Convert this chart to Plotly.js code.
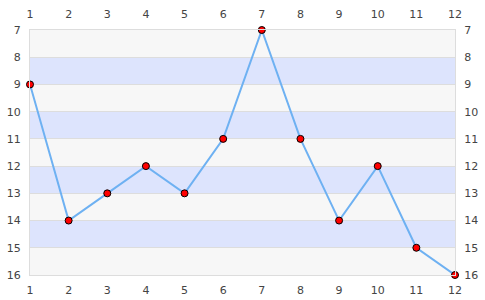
<!DOCTYPE html>
<html>
<head>
<meta charset="utf-8">
<script src="https://cdn.plot.ly/plotly-3.0.1.min.js"></script>
<style>html,body{margin:0;padding:0;background:#fff}#chart{width:485px;height:300px}</style>
</head>
<body>
<div id="chart"></div>
<script>
const xValues = [1, 2, 3, 4, 5, 6, 7, 8, 9, 10, 11, 12];
const yValues = [9, 14, 13, 12, 13, 11, 7, 11, 14, 12, 15, 16];
const bandStarts = [8, 10, 12, 14];

const shapes = bandStarts.map(b => ({
  type: 'rect', xref: 'paper', yref: 'y', x0: 0, x1: 1, y0: b, y1: b + 1,
  fillcolor: '#dde4fd', line: {width: 0}, layer: 'below'
}));

const trace = {
  x: xValues, y: yValues, type: 'scatter', mode: 'lines+markers',
  line: {color: '#6eb1f2', width: 2},
  marker: {color: '#ff0000', size: 7, line: {color: '#000', width: 1}},
  cliponaxis: false, hoverinfo: 'none'
};
const trace2 = {x: xValues, y: yValues, xaxis: 'x2', yaxis: 'y2', type: 'scatter', mode: 'none', showlegend: false, hoverinfo: 'none'};

const axisCommon = {
  showline: true, linecolor: '#dddddd', linewidth: 1, ticks: '', zeroline: false,
  tickfont: {family: 'DejaVu Sans', size: 11, color: '#444'}, dtick: 1, fixedrange: true
};

const layout = {
  width: 485, height: 300,
  margin: {l: 30, r: 30, t: 30, b: 25},
  paper_bgcolor: '#ffffff', plot_bgcolor: '#f7f7f7',
  showlegend: false,
  xaxis: Object.assign({}, axisCommon, {range: [1, 12], showgrid: false, tickvals: xValues, mirror: true, ticklabelstandoff: 5}),
  xaxis2: Object.assign({}, axisCommon, {range: [1, 12], showgrid: false, tickvals: xValues, overlaying: 'x', side: 'top', ticklabelstandoff: 7}),
  yaxis: Object.assign({}, axisCommon, {range: [16, 7], showgrid: true, gridcolor: '#dddddd', mirror: true, ticklabelstandoff: 6}),
  yaxis2: Object.assign({}, axisCommon, {range: [16, 7], showgrid: false, overlaying: 'y', side: 'right', anchor: 'x', ticklabelstandoff: 6}),
  shapes: shapes
};

Plotly.newPlot('chart', [trace, trace2], layout, {displayModeBar: false, staticPlot: true});
</script>
</body>
</html>
